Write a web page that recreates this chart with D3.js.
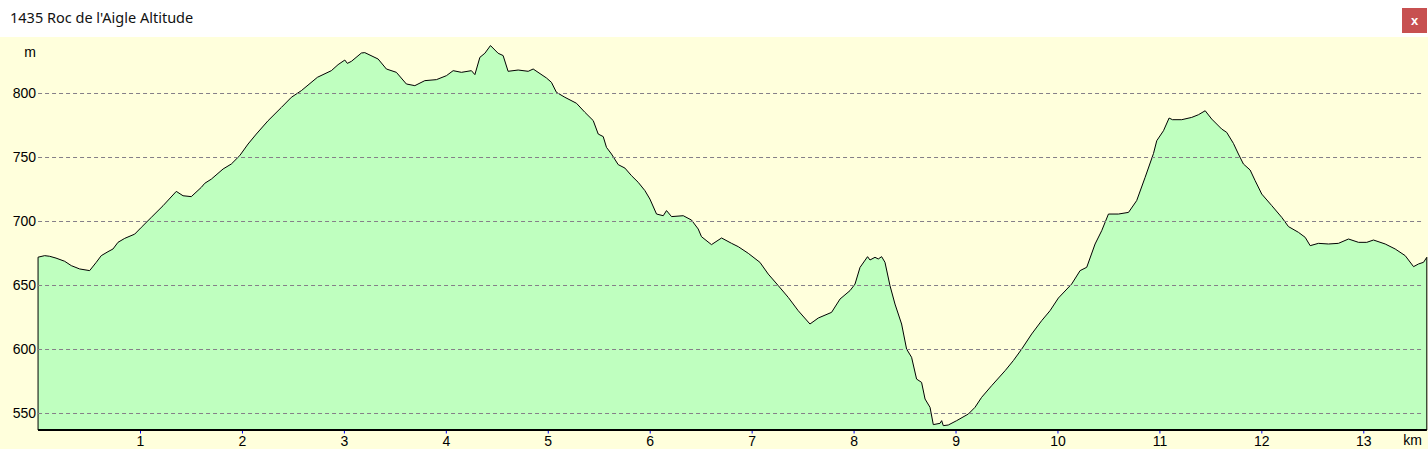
<!DOCTYPE html>
<html>
<head>
  <script src="https://d3js.org/d3.v7.min.js"></script>
  <style>
    body { margin: 0; background: #fff; }
    svg { display: block; font-family: "Liberation Sans", Arial, sans-serif; }
    .title { font-family: "Noto Sans", "Liberation Sans", sans-serif; font-size: 14.5px; fill: #111; }
    .lbl { font-size: 14px; fill: #000; }
    .grid line { stroke: #857f88; stroke-width: 1; stroke-dasharray: 4,3; }
  </style>
</head>
<body>
<div id="chart"></div>
<script>
// distance along the track (km)
var distKm = [0, 0.065, 0.114, 0.176, 0.261, 0.326, 0.408, 0.506, 0.571, 0.620,
  0.686, 0.735, 0.784, 0.850, 0.948, 1.013, 1.111, 1.226, 1.356, 1.422,
  1.503, 1.602, 1.635, 1.700, 1.815, 1.896, 1.978, 2.060, 2.141, 2.256,
  2.387, 2.485, 2.583, 2.740,
  2.877, 2.943, 3.009, 3.034, 3.074, 3.172, 3.205, 3.336, 3.417, 3.515,
  3.613, 3.696, 3.794, 3.908, 4.006, 4.072, 4.153, 4.251, 4.285, 4.334,
  4.383, 4.438, 4.513, 4.562, 4.611, 4.710, 4.808, 4.857, 4.987, 5.036,
  5.085, 5.168, 5.282, 5.364, 5.446,
  5.495, 5.544, 5.576, 5.625, 5.691, 5.757, 5.821, 5.887, 5.953, 6.002,
  6.067, 6.133, 6.165, 6.214, 6.329, 6.410, 6.476, 6.508, 6.606, 6.705,
  6.803, 6.869, 6.967, 7.081, 7.163, 7.261, 7.359, 7.457, 7.572, 7.654,
  7.784, 7.867, 7.965, 8.014, 8.063, 8.137, 8.161, 8.210,
  8.242, 8.275, 8.308, 8.357, 8.406, 8.471, 8.520, 8.569, 8.618, 8.667,
  8.701, 8.750, 8.782, 8.848, 8.864, 8.880, 8.929, 9.011, 9.126, 9.191,
  9.256, 9.354, 9.486, 9.567, 9.649, 9.747, 9.845, 9.927, 10.009, 10.139,
  10.222, 10.287, 10.369, 10.434, 10.500, 10.598, 10.697, 10.777, 10.860, 10.942,
  10.974,
  11.040, 11.095, 11.128, 11.219, 11.317, 11.383, 11.449, 11.513, 11.611, 11.660,
  11.726, 11.775, 11.824, 11.890, 11.939, 12.004, 12.102, 12.200, 12.266, 12.364,
  12.430, 12.479, 12.560, 12.658, 12.756, 12.855, 12.953, 13.034, 13.100, 13.215,
  13.313, 13.411, 13.493, 13.542, 13.591, 13.623];

// altitude (m)
var altM = [672, 673.2, 672.7, 671.3, 668.8, 665.4, 662.8, 661.5, 668, 673.2,
  676.3, 678.4, 683.6, 686.7, 690, 695.3, 703.1, 712.2, 723.4, 720,
  719.3, 726.6, 729.7, 733, 740.9, 744.8, 751.3, 760.4, 768.2, 778.6,
  789, 796.9, 802.1, 812.5,
  817.7, 822.4, 826, 823.4, 825, 831.5, 831.8, 826.8, 819, 816.4,
  807.3, 806, 809.9, 810.7, 813.8, 817.7, 816.4, 817.7, 814.6, 828.1,
  831.3, 837.3, 831.3, 829.5, 817.2, 818.2, 817.2, 819, 812, 808.6,
  800.8, 796.9, 792.2, 785.2, 778.7,
  768.2, 766.2, 757.8, 752.6, 744.3, 741.6, 735.7, 730.5, 724, 717.4,
  705.7, 704.4, 708.4, 703.7, 704.4, 701, 694, 688, 681.8, 687,
  682.8, 680.2, 675, 668, 658.8, 649.8, 640.6, 630.2, 619.8, 624.5,
  628.9, 639.3, 645.9, 651, 664, 672.4, 669.8, 671.9,
  670.6, 672.4, 668, 649.8, 635.4, 619.8, 600.2, 593.8, 576.8, 574.2,
  561.2, 554.7, 541.2, 542.2, 544.3, 540.4, 540.9, 544.3, 549.5, 554.7,
  562.5, 571.6, 583.3, 591.2, 600.2, 612, 622.4, 630.2, 640.1, 651,
  661.5, 664.1, 682.3, 692.7, 705.7, 705.7, 707, 716.2, 734.4, 753,
  763,
  770.8, 780.7, 779.4, 779.4, 781.2, 783.3, 786.4, 779.9, 772.1, 769.5,
  760.9, 752.6, 744.8, 740.1, 731.8, 721.3, 712.3, 703.1, 695.9, 691.4,
  687.5, 681, 682.8, 682.3, 682.8, 686.2, 683.6, 683.6, 685.4, 682.3,
  678.4, 673.2, 664.6, 666.7, 668, 671.9];

var kmTicks = [1, 2, 3, 4, 5, 6, 7, 8, 9, 10, 11, 12, 13];
var altTicks = [550, 600, 650, 700, 750, 800];
var chartTitle = "1435 Roc de l'Aigle Altitude";

var width = 1428;
var height = 449;
var plotLeft = 38.06, plotRight = 1426.8, plotTop = 37, plotBottom = 430;

var data = distKm.map(function(d, i) { return {km: d, alt: altM[i]}; });

var x = d3.scaleLinear().domain([0, 13.623]).range([plotLeft, plotRight]);
var y = d3.scaleLinear().domain([537, 844]).range([plotBottom, plotTop]);

var svg = d3.select("#chart").append("svg")
  .attr("width", width)
  .attr("height", height);

/* title bar */
svg.append("rect").attr("width", width).attr("height", plotTop).attr("fill", "#fff");
svg.append("text").attr("class", "title")
  .attr("x", 10).attr("y", 23)
  .text(chartTitle);
svg.append("rect")
  .attr("x", 1402).attr("y", 8).attr("width", 25).attr("height", 25)
  .attr("fill", "#c75050");
svg.append("text")
  .attr("x", 1414.5).attr("y", 24.5)
  .attr("text-anchor", "middle")
  .attr("fill", "#fff")
  .style("font-size", "13px")
  .style("font-weight", "bold")
  .text("x");

/* plot background */
svg.append("rect")
  .attr("y", plotTop).attr("width", width).attr("height", height - plotTop)
  .attr("fill", "#ffffdc");

/* profile */
var area = d3.area()
  .x(d => x(d.km))
  .y0(plotBottom)
  .y1(d => y(d.alt));

svg.append("path")
  .datum(data)
  .attr("d", area)
  .attr("fill", "#bfffbf")
  .attr("stroke", "#000")
  .attr("stroke-width", 1);

/* grid */
svg.append("g").attr("class", "grid")
  .selectAll("line")
  .data(altTicks).enter()
  .append("line")
  .attr("x1", plotLeft).attr("x2", 1424)
  .attr("y1", d => Math.round(y(d)) + 0.5)
  .attr("y2", d => Math.round(y(d)) + 0.5);

svg.append("g")
  .selectAll("text")
  .data(altTicks).enter()
  .append("text")
  .attr("class", "lbl")
  .attr("x", 36)
  .attr("y", d => y(d) + 5)
  .attr("text-anchor", "end")
  .text(d => d);

svg.append("text").attr("class", "lbl")
  .attr("x", 36).attr("y", 57)
  .attr("text-anchor", "end")
  .text("m");

/* x axis */
var xAxis = d3.axisBottom(x)
  .tickValues(kmTicks)
  .tickSize(3)
  .tickPadding(3)
  .tickFormat(d3.format("d"));

var gx = svg.append("g")
  .attr("transform", "translate(0," + (plotBottom + 0.5) + ")")
  .call(xAxis);
gx.select(".domain").remove();
gx.selectAll(".tick line").attr("stroke", "#0000ff");
gx.selectAll(".tick text")
  .attr("class", "lbl")
  .style("font-family", "'Liberation Sans', Arial, sans-serif");

svg.append("line")
  .attr("x1", plotLeft).attr("x2", plotRight)
  .attr("y1", plotBottom).attr("y2", plotBottom)
  .attr("stroke", "#000").attr("stroke-width", 2);

svg.append("text").attr("class", "lbl")
  .attr("x", 1422).attr("y", 445)
  .attr("text-anchor", "end")
  .text("km");
</script>
</body>
</html>
